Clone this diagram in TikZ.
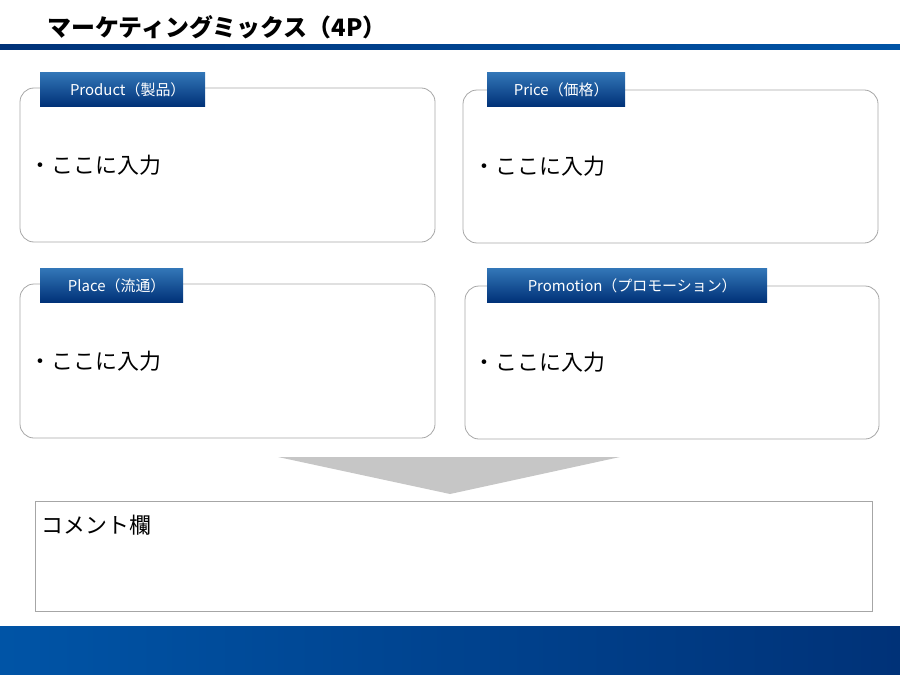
\documentclass[tikz,border=0pt]{standalone}
\usepackage{fontspec}
\setmainfont{Noto Sans CJK JP}
\usetikzlibrary{positioning}
\definecolor{mainblue}{RGB}{0,84,166}
\definecolor{darkblue}{RGB}{0,50,120}
\tikzset{x=1bp,y=-1bp,
         quad/.style={draw=gray!70,rounded corners=14bp,line width=0.8pt},
         tag/.style={anchor=north west,inner sep=0pt,text=white,
                     top color=mainblue!80,bottom color=darkblue,
                     font=\fontsize{15}{15}\selectfont,text depth=0pt,
                     align=left,minimum height=34bp},
         bullet/.style={anchor=west,font=\fontsize{22}{22}\selectfont}}

\begin{document}
\begin{tikzpicture}
	  \useasboundingbox (0,0) rectangle (900,675);
	  % title
	  \node[anchor=west,font=\bfseries\fontsize{24}{24}\selectfont] (title) at (44,27)
	      {マーケティングミックス（4P）};
	  \shade[left color=darkblue,right color=mainblue] (0,45) rectangle (900,50);
	  % four boxes
	  \draw[quad] (20,88) rectangle (435,242);
	  \draw[quad] (463,90) rectangle (878,243);
	  \draw[quad] (20,284) rectangle (435,438);
	  \draw[quad] (465,286) rectangle (879,439);
	  \node[tag,minimum width=165bp] (product) at (40,72) {\hspace{10bp}Product（製品）};
	  \node[tag,minimum width=138bp] (price) at (487,72) {\hspace{10bp}Price（価格）};
	  \node[tag,minimum width=143bp] (place) at (40,268) {\hspace{10bp}Place（流通）};
	  \node[tag,minimum width=280bp] (promo) at (487,268) {\hspace{10bp}Promotion（プロモーション）};
	  \node[bullet] (in1) at (26,165) {・ここに入力};
	  \node[bullet] (in2) at (470,166) {・ここに入力};
	  \node[bullet] (in3) at (26,361) {・ここに入力};
	  \node[bullet] (in4) at (470,362) {・ここに入力};
	  % arrow
	  \fill[gray!45] (278,457) -- (620,457) -- (450,494) -- cycle;
	  % comment
	  \draw[gray!70,line width=0.8pt] (35,501) rectangle (872,611);
	  \node[anchor=west,font=\fontsize{22}{22}\selectfont] (comment) at (38,525) {コメント欄};
	  % footer
	  \shade[left color=mainblue,right color=darkblue] (0,626) rectangle (900,675);
\end{tikzpicture}
\end{document}
